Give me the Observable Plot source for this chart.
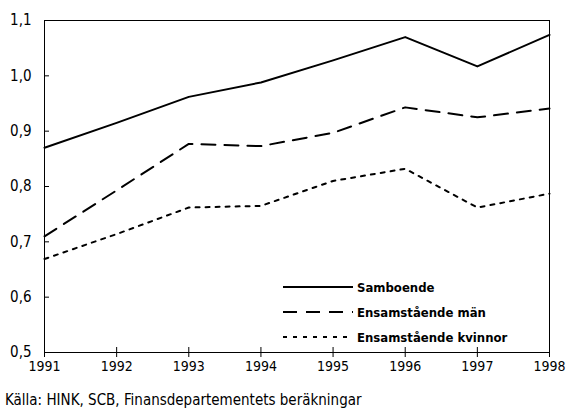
<!DOCTYPE html>
<html><head><meta charset="utf-8">
<script src="https://cdn.jsdelivr.net/npm/d3@7"></script>
<script src="https://cdn.jsdelivr.net/npm/@observablehq/plot@0.6"></script>
<style>
body{margin:0;background:#fff;font-family:"DejaVu Sans Condensed","Liberation Sans Narrow",sans-serif;}
#wrap{position:relative;width:566px;height:411px;}
#chart svg{display:block;}
#caption{position:absolute;left:5px;top:392px;font-size:15px;line-height:16px;color:#000;white-space:nowrap;}
#legend{position:absolute;left:0;top:0;}
</style></head>
<body><div id="wrap"><div id="chart"></div><svg id="legend" width="566" height="380"></svg><div id="caption">Källa: HINK, SCB, Finansdepartementets beräkningar</div></div>
<script>
const years = [1991,1992,1993,1994,1995,1996,1997,1998];
const samboende = [0.870,0.915,0.962,0.988,1.028,1.070,1.017,1.074];
const ensamMan = [0.710,0.793,0.877,0.873,0.897,0.943,0.925,0.941];
const ensamKvinnor = [0.669,0.714,0.762,0.765,0.810,0.832,0.762,0.787];
const seriesNames = ["Samboende","Ensamstående män","Ensamstående kvinnor"];
const dashes = [null,"14,9","4,6"];
const yTicks = [0.5,0.6,0.7,0.8,0.9,1.0,1.1];

const data = [];
[samboende, ensamMan, ensamKvinnor].forEach((arr,i)=>arr.forEach((v,j)=>data.push({year:years[j],value:v,series:seriesNames[i]})));
const fmt = d => d.toFixed(1).replace(".", ",");
const FF = '"DejaVu Sans Condensed","Liberation Sans Narrow",sans-serif';

const chart = Plot.plot({
  width:566, height:380,
  marginLeft:44, marginRight:17, marginTop:20, marginBottom:28,
  style:{fontFamily:FF, fontSize:"15px", color:"#000", background:"#fff"},
  x:{domain:[1991,1998], label:null},
  y:{domain:[0.5,1.1], label:null},
  marks:[
    Plot.frame({stroke:"#000"}),
    Plot.axisY(yTicks,{tickSize:5, dx:5, text:null, stroke:"#000", label:null}),
    Plot.axisY(yTicks,{tickSize:0, tickPadding:13, tickFormat:fmt, fill:"#000", fontSize:15, label:null}),
    Plot.axisX(years,{tickSize:10, dy:-5, text:null, stroke:"#000", label:null}),
    Plot.axisX(years,{tickSize:0, tickPadding:9, tickFormat:d=>String(d), fill:"#000", fontSize:14, label:null}),
    ...seriesNames.map((s,i)=>Plot.line(data.filter(d=>d.series===s),{x:"year",y:"value",stroke:"#000",strokeWidth:2,strokeDasharray:dashes[i]}))
  ]
});
document.getElementById("chart").appendChild(chart);

const lg = d3.select("#legend");
seriesNames.forEach((s,i)=>{
  const y = 287 + i*25;
  lg.append("line").attr("x1",283).attr("x2",353).attr("y1",y).attr("y2",y)
    .attr("stroke","#000").attr("stroke-width",2).attr("stroke-dasharray",dashes[i]);
  lg.append("text").attr("x",357).attr("y",y).attr("dy","0.35em")
    .attr("font-size",13).attr("font-weight","bold")
    .attr("font-family",FF).text(s);
});
</script></body></html>
